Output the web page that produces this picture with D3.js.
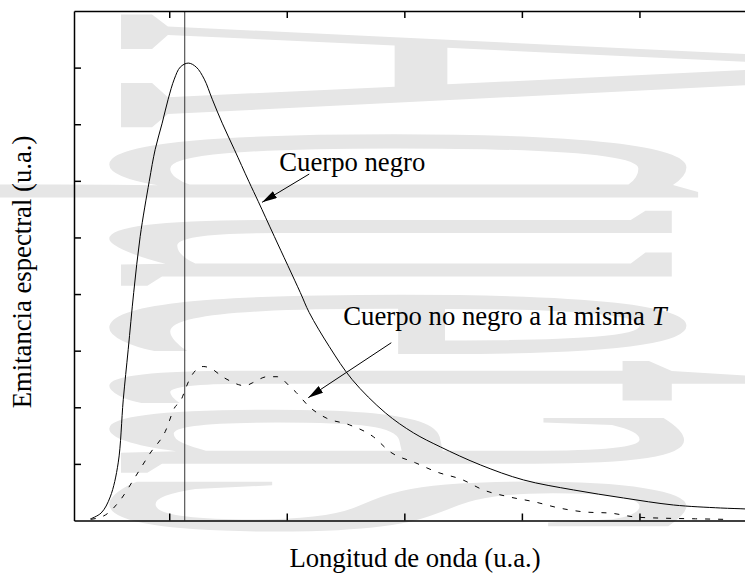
<!DOCTYPE html>
<html>
<head>
<meta charset="utf-8">
<script src="https://cdn.jsdelivr.net/npm/d3@7"></script>
<style>
  body { margin: 0; background: #fff; }
  svg { display: block; }
  text { font-family: "Liberation Serif", "Times New Roman", serif; }
</style>
</head>
<body>
<svg class="root"></svg>
<script>
// spectral emittance, arbitrary units
var blackX = [0.328, 0.421, 0.498, 0.566, 0.609, 0.651, 0.698, 0.753, 0.830, 0.881, 0.940, 0.991, 1.043, 1.094, 1.162,
              1.230, 1.298, 1.366, 1.451, 1.553, 1.677, 1.757, 1.894, 2.115, 2.191, 2.362, 2.557, 2.838, 3.077, 3.306,
              3.647, 4.013, 4.438, 4.864, 5.289, 5.689, 5.902, 6.0];
var blackY = [0.027, 0.133, 0.416, 1.018, 2.133, 3.018, 4.027, 5.018, 5.991, 6.558, 7.018, 7.442, 7.796, 8.009, 8.08,
              8.009, 7.796, 7.442, 7.018, 6.558, 5.991, 5.637, 5.018, 4.027, 3.673, 3.071, 2.487, 1.903, 1.549, 1.301,
              0.982, 0.717, 0.540, 0.398, 0.274, 0.221, 0.204, 0.19];

var greyX = [0.333, 0.459, 0.583, 0.711, 0.838, 0.966, 1.051, 1.094, 1.145, 1.179, 1.289, 1.34, 1.468, 1.647, 1.706,
             1.834, 1.919, 2.03, 2.081, 2.191, 2.336, 2.532, 2.736, 2.881, 3.094, 3.272, 3.494, 3.672, 3.885, 4.106,
             4.319, 4.54, 4.753, 4.974, 5.221, 5.477, 5.732];
var greyY = [0.02, 0.1, 0.36, 0.77, 1.19, 1.57, 2.01, 2.1, 2.36, 2.52, 2.72, 2.7, 2.52, 2.38, 2.43,
             2.54, 2.54, 2.36, 2.26, 2.01, 1.81, 1.69, 1.48, 1.21, 1.02, 0.86, 0.72, 0.54, 0.42, 0.33,
             0.22, 0.15, 0.13, 0.06, 0.04, 0.03, 0.02];

var xTicks = [1, 2, 3, 4, 5];
var yTicks = [1, 2, 3, 4, 5, 6, 7, 8];
var peakX = 1.132;

var margin = {top: 11, left: 74},
    width = 683,
    height = 509.5;

var x = d3.scaleLinear().domain([0.19, 6]).range([0, width]);
var y = d3.scaleLinear().domain([0, 9]).range([height, 0]);

var root = d3.select(".root").attr("width", 745).attr("height", 574);

var defs = root.append("defs");
defs.append("clipPath").attr("id", "page")
  .append("rect").attr("width", 745).attr("height", 574);
defs.append("marker")
    .attr("id", "head")
    .attr("markerUnits", "userSpaceOnUse")
    .attr("viewBox", "0 0 15 8")
    .attr("refX", 15).attr("refY", 4)
    .attr("markerWidth", 15).attr("markerHeight", 8)
    .attr("orient", "auto")
  .append("path")
    .attr("d", "M0,0 L15,4 L0,8 Z")
    .attr("fill", "#000");

// watermark
root.append("g").attr("clip-path", "url(#page)")
  .append("text")
    .attr("transform", "translate(121,13) rotate(90) scale(1,7.5)")
    .attr("font-size", 160)
    .attr("fill", "#e6e6e6")
    .text("Aquetas");

var svg = root.append("g")
    .attr("transform", "translate(" + margin.left + "," + margin.top + ")");

// λmax marker
svg.append("line")
    .attr("x1", x(peakX)).attr("x2", x(peakX))
    .attr("y1", 0).attr("y2", height)
    .attr("stroke", "#333").attr("stroke-width", 1);

var line = d3.line()
    .x((d) => x(d[0])).y((d) => y(d[1]));

svg.append("path")
    .datum(blackX.map((v, i) => [v, blackY[i]]))
    .attr("d", line.curve(d3.curveCatmullRom.alpha(0.5)))
    .attr("fill", "none").attr("stroke", "#000").attr("stroke-width", 1);

svg.append("path")
    .datum(greyX.map((v, i) => [v, greyY[i]]))
    .attr("d", line.curve(d3.curveMonotoneX))
    .attr("fill", "none").attr("stroke", "#000").attr("stroke-width", 1)
    .attr("stroke-dasharray", "5,8");

// axes, ticks pointing inward
var axes = [
  svg.append("g").attr("transform", "translate(0," + height + ")")
    .call(d3.axisBottom(x).tickValues(xTicks).tickSize(-7).tickSizeOuter(0).tickFormat("")),
  svg.append("g")
    .call(d3.axisTop(x).tickValues(xTicks).tickSize(-7).tickSizeOuter(0).tickFormat("")),
  svg.append("g")
    .call(d3.axisLeft(y).tickValues(yTicks).tickSize(-7).tickSizeOuter(0).tickFormat(""))
];
axes.forEach((g) => {
  g.selectAll("path, line").attr("stroke", "#000").attr("stroke-width", 1.5);
});

// annotations
var notes = [
  {text: "Cuerpo negro", lx: 1.936, ly: 6.17, from: [2.191, 6.12], to: [1.79, 5.62]},
  {text: "Cuerpo no negro a la misma ", italic: "T", lx: 2.481, ly: 3.46, from: [2.889, 3.14], to: [2.183, 2.17]}
];
notes.forEach((n) => {
  var t = svg.append("text")
      .attr("x", x(n.lx)).attr("y", y(n.ly))
      .attr("font-size", 26.7)
      .text(n.text);
  if (n.italic) t.append("tspan").attr("font-style", "italic").text(n.italic);
  svg.append("line")
      .attr("x1", x(n.from[0])).attr("y1", y(n.from[1]))
      .attr("x2", x(n.to[0])).attr("y2", y(n.to[1]))
      .attr("stroke", "#000").attr("stroke-width", 1)
      .attr("marker-end", "url(#head)");
});

root.append("text")
    .attr("x", 415).attr("y", 567)
    .attr("text-anchor", "middle")
    .attr("font-size", 26.7)
    .text("Longitud de onda (u.a.)");

root.append("text")
    .attr("transform", "translate(31,272) rotate(-90)")
    .attr("text-anchor", "middle")
    .attr("font-size", 26.7)
    .text("Emitancia espectral (u.a.)");
</script>
</body>
</html>
